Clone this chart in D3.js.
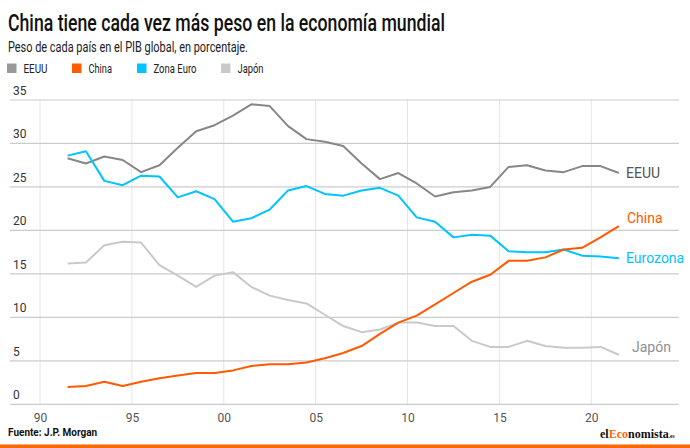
<!DOCTYPE html>
<html><head><meta charset="utf-8">
<script src="https://cdn.jsdelivr.net/npm/d3@7"></script>
<style>
html,body{margin:0;padding:0;background:#fff;}
svg{display:block;font-family:Roboto,"Noto Sans",sans-serif;}
</style></head>
<body>
<svg id="chart" width="690" height="448"></svg>
<script>
const years = d3.range(1991, 2022);
const eeuu = [28.3,27.7,28.5,28.1,26.7,27.5,29.5,31.4,32.1,33.2,34.5,34.3,32.0,30.5,30.2,29.7,27.7,25.9,26.6,25.4,23.9,24.4,24.6,25.0,27.3,27.5,26.9,26.7,27.4,27.4,26.6];
const china = [2.0,2.1,2.6,2.1,2.6,3.0,3.3,3.6,3.6,3.9,4.4,4.6,4.6,4.8,5.3,5.9,6.7,8.1,9.4,10.2,11.5,12.8,14.1,14.9,16.5,16.5,16.9,17.8,18.0,19.2,20.5];
const eurozona = [28.6,29.1,25.7,25.2,26.3,26.2,23.8,24.5,23.6,21.0,21.4,22.4,24.6,25.1,24.2,24.0,24.6,24.9,24.0,21.5,21.0,19.2,19.5,19.4,17.6,17.5,17.5,17.8,17.1,17.0,16.8];
const japon = [16.2,16.3,18.3,18.7,18.6,16.0,14.8,13.5,14.8,15.2,13.5,12.5,12.0,11.6,10.3,9.0,8.3,8.6,9.4,9.4,9.0,9.0,7.3,6.6,6.6,7.3,6.7,6.5,6.5,6.6,5.7];
const yTicks = [0,5,10,15,20,25,30,35];
const xTicks = [1990,1995,2000,2005,2010,2015,2020];
const xTickLabels = ["90","95","00","05","10","15","20"];

const series = [
  {name:"EEUU", legend:"EEUU", label:"EEUU", values:eeuu, color:"#878787", labelColor:"#555555"},
  {name:"Japón", legend:"Japón", label:"Japón", values:japon, color:"#c9c9c9", labelColor:"#8f8f8f"},
  {name:"Zona Euro", legend:"Zona Euro", label:"Eurozona", values:eurozona, color:"#00c4ff", labelColor:"#00c4ff"},
  {name:"China", legend:"China", label:"China", values:china, color:"#ff5a00", labelColor:"#ff5a00"}
];
const legendOrder = ["EEUU","China","Zona Euro","Japón"];

const svg = d3.select("#chart");
const x = d3.scaleLinear().domain([1990, 2020]).range([40, 591.3]);
const y = d3.scaleLinear().domain([0, 35]).range([404.3, 100]);

// Title & subtitle
svg.append("text").attr("x", 8).attr("y", 30.5)
  .attr("font-size", 24.5).attr("font-weight", 500).attr("fill", "#111")
  .attr("textLength", 437).attr("lengthAdjust", "spacingAndGlyphs")
  .text("China tiene cada vez más peso en la economía mundial");
svg.append("text").attr("x", 8).attr("y", 52)
  .attr("font-size", 14.5).attr("fill", "#222")
  .attr("textLength", 240).attr("lengthAdjust", "spacingAndGlyphs")
  .text("Peso de cada país en el PIB global, en porcentaje.");

// Legend
const legX = [7, 72, 137, 221];
legendOrder.forEach((n, i) => {
  const s = series.find(d => d.name === n);
  svg.append("rect").attr("x", legX[i]).attr("y", 63.5).attr("width", 9.5).attr("height", 9.5).attr("fill", s.color === "#878787" ? "#999999" : s.color);
  svg.append("text").attr("x", legX[i] + 16.5).attr("y", 73).attr("font-size", 13.5).attr("fill", "#222")
    .attr("textLength", {"EEUU":24,"China":23.5,"Zona Euro":43,"Japón":26}[n]).attr("lengthAdjust","spacingAndGlyphs")
    .text(s.legend);
});

// Vertical gridlines
svg.append("g").selectAll("line").data(xTicks).join("line")
  .attr("x1", d => x(d)).attr("x2", d => x(d))
  .attr("y1", y(35)).attr("y2", y(0))
  .attr("stroke", "#e6e6e6").attr("stroke-width", 1);

// Horizontal gridlines
svg.append("g").selectAll("line").data(yTicks).join("line")
  .attr("x1", 10).attr("x2", 679)
  .attr("y1", d => y(d)).attr("y2", d => y(d))
  .attr("stroke", "#cccccc").attr("stroke-width", 1.2);

// Y labels
svg.append("g").selectAll("text").data(yTicks).join("text")
  .attr("x", 13).attr("y", d => y(d) - 5)
  .attr("font-size", 12).attr("fill", "#333")
  .text(d => d);

// X labels
const xAxis = d3.axisBottom(x).tickValues(xTicks).tickSize(0).tickFormat((d, i) => xTickLabels[i]);
const gx = svg.append("g").attr("transform", `translate(0,${y(0) + 6})`).call(xAxis);
gx.select(".domain").remove();
gx.selectAll("text").attr("font-size", 12).attr("fill", "#555").attr("font-family", "Roboto, sans-serif");

// Lines
const line = d3.line().x((d, i) => x(years[i] + 0.5)).y(d => y(d));
series.forEach(s => {
  svg.append("path").datum(s.values).attr("d", line)
    .attr("fill", "none").attr("stroke", s.color).attr("stroke-width", 2)
    .attr("stroke-linejoin", "round");
});

// Line end labels
const labelPos = {"EEUU":[626,178],"China":[627,223],"Eurozona":[626,262.5],"Japón":[632,352]};
series.forEach(s => {
  const p = labelPos[s.label];
  svg.append("text").attr("x", p[0]).attr("y", p[1]).attr("font-size", 14)
    .attr("fill", s.labelColor).text(s.label);
});

// Footer
svg.append("text").attr("x", 8).attr("y", 436).attr("font-size", 10).attr("font-weight", 700)
  .attr("fill", "#111").text("Fuente: J.P. Morgan");
const logo = svg.append("text").attr("x", 600).attr("y", 437.5)
  .attr("font-family", "'Liberation Serif', 'DejaVu Serif', serif").attr("font-weight", 700).attr("font-size", 12).attr("fill", "#111");
logo.append("tspan").text("el");
logo.append("tspan").attr("fill", "#ff6a00").text("Eco");
logo.append("tspan").text("nomista");
logo.append("tspan").attr("font-size", 5.5).text(".es");
svg.append("rect").attr("x", 0).attr("y", 444.5).attr("width", 690).attr("height", 3.5).attr("fill", "#ff6600");
</script>
</body></html>
